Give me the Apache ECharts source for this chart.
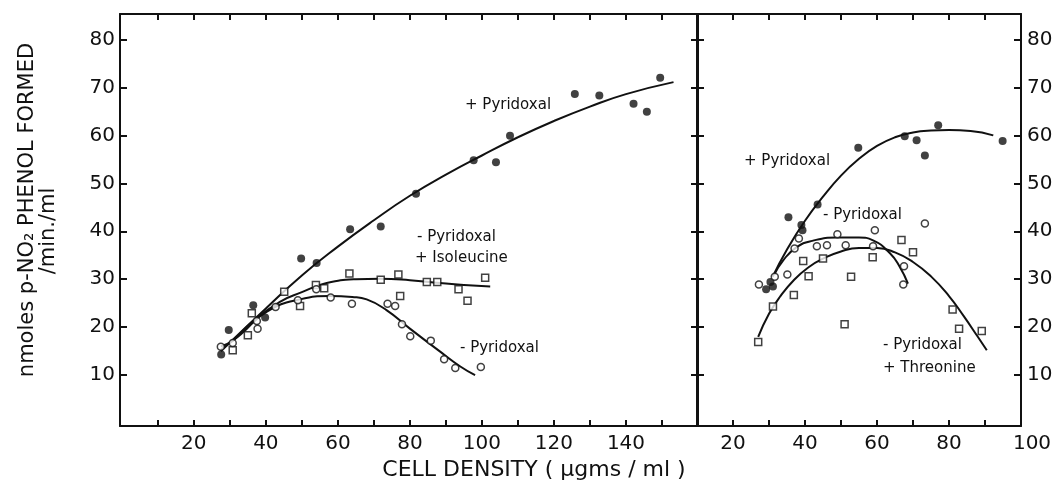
<!DOCTYPE html>
<html>
<head>
<meta charset="utf-8">
<script src="https://cdn.jsdelivr.net/npm/echarts@6/dist/echarts.min.js"></script>
<style>
  html, body { margin: 0; padding: 0; background: #fff; }
  #chart { width: 1059px; height: 483px; }
</style>
</head>
<body>
<div id="chart"></div>
<script>
// left panel: measured points (cell density, nmoles/min/ml)
const leftPlusPyridoxal = [[27.6,14.3],[29.7,19.4],[36.5,24.6],[39.8,22.0],[49.8,34.3],[54.1,33.4],[63.4,40.4],[71.9,41.0],[81.7,47.8],[97.7,54.8],[103.9,54.4],[107.8,59.9],[125.8,68.6],[132.6,68.3],[142.1,66.6],[145.8,64.9],[149.5,72.0]]
const leftIsoleucine = [[30.8,15.2],[35.0,18.3],[36.1,22.9],[45.1,27.4],[49.5,24.4],[53.9,28.8],[56.2,28.1],[63.2,31.2],[71.9,29.9],[76.8,31.0],[77.3,26.5],[84.7,29.4],[87.6,29.4],[93.5,27.9],[96.0,25.5],[100.9,30.3]]
const leftMinusPyridoxal = [[27.5,15.9],[30.8,16.7],[37.5,21.3],[37.7,19.7],[42.7,24.2],[48.9,25.6],[54.0,27.9],[58.0,26.2],[63.9,24.9],[73.8,24.9],[75.9,24.4],[77.8,20.6],[80.1,18.1],[85.8,17.2],[89.5,13.3],[92.6,11.5],[99.7,11.7]]

// left panel: hand-drawn curves
const leftPlusCurve = [[27.5,15],[40,23.9],[50,30.8],[60,36.8],[70,42.3],[80,47.4],[90,51.8],[100,55.8],[110,59.6],[120,63.0],[130,66.0],[140,68.6],[153.2,71.1]]
const leftIsoCurve = [[27.5,16],[31,17.3],[36,21],[43.9,25.3],[50,27.3],[56.9,29.2],[65,30],[71.7,30.1],[80,29.8],[88.4,29.2],[95,28.8],[102.3,28.5]]
const leftMinusCurve = [[27.5,15.3],[33,18.5],[40.2,23.2],[49.5,25.8],[57.8,26.5],[64,26.3],[68,25.8],[73.6,23.5],[80,19.7],[88.4,14.9],[94,11.8],[98.1,10]]

// right panel: measured points
const rightPlusPyridoxal = [[29.2,27.9],[30.4,29.4],[31.1,28.5],[35.4,42.9],[39.0,41.3],[39.3,40.2],[43.5,45.6],[54.8,57.4],[67.7,59.8],[71.0,59.0],[73.3,55.8],[77.0,62.1],[94.9,58.8]]
const rightMinusPyridoxal = [[27.2,28.9],[31.6,30.5],[35.1,31.0],[37.1,36.4],[38.3,38.5],[43.3,36.9],[46.1,37.1],[49.0,39.4],[51.3,37.1],[58.9,36.9],[59.4,40.2],[67.5,32.7],[67.3,28.9],[73.3,41.6]]
const rightThreonine = [[27.0,16.9],[31.1,24.3],[36.9,26.7],[39.5,33.8],[41.0,30.6],[45.0,34.3],[51.0,20.6],[52.8,30.5],[58.8,34.6],[66.8,38.2],[70.0,35.6],[81.0,23.7],[82.8,19.7],[89.1,19.2]]

// right panel: curves
const rightPlusCurve = [[31,30.5],[35,36.2],[40,42.2],[45,47.2],[50,51.6],[55,55.1],[60,57.8],[65,59.6],[70,60.6],[75,61.0],[80,61.1],[86,60.9],[92.3,60]]
const rightMinusCurve = [[31.5,31],[34,34],[37.7,36.7],[42,38],[48.8,38.7],[55,38.7],[58.9,38.1],[63.6,35.4],[66.3,32.6],[68.6,29.1]]
const rightThreCurve = [[27,18],[30,22.8],[33,26.3],[37,29.9],[41,32.5],[45,34.3],[50,35.8],[55,36.5],[60,36.5],[65,35.6],[70,33.6],[75,30.6],[80,26.5],[84,22.4],[88,18],[90.5,15.2]]

// ticks and labels
const yTicks = [10, 20, 30, 40, 50, 60, 70, 80]
const leftXTicks = [10, 20, 30, 40, 50, 60, 70, 80, 90, 100, 110, 120, 130, 140, 150]
const leftXLabels = [20, 40, 60, 80, 100, 120, 140]
const rightXTicks = [20, 30, 40, 50, 60, 70, 80, 90]
const rightXLabels = [20, 40, 60, 80, 100]

const FONT = 'DejaVu Sans'
const INK = '#111'

const chart = echarts.init(document.getElementById('chart'), null, {renderer: 'canvas'})

const axisLine = {show: true, onZero: false, lineStyle: {color: INK, width: 2}}
const noSplit = {show: false}

const xAx = (grid, pos, min, max, ticks, labels) => ({
  type: 'value', gridIndex: grid, position: pos, min, max,
  axisLine,
  axisTick: {show: true, inside: true, length: 6, customValues: ticks, lineStyle: {color: INK, width: 2}},
  axisLabel: labels ? {
    show: true, customValues: labels, margin: 8, color: INK, fontFamily: FONT, fontSize: 20,
    formatter: v => v === 100 && grid === 1 ? '{r|100}' : String(v),
    rich: {r: {fontFamily: FONT, fontSize: 20, color: INK, padding: [0, 0, 0, 22]}}
  } : {show: false},
  splitLine: noSplit
})

const yAx = (grid, pos, labels) => ({
  type: 'value', gridIndex: grid, position: pos, min: -0.6, max: 85.3,
  axisLine,
  axisTick: {show: true, inside: true, length: 7, customValues: yTicks, lineStyle: {color: INK, width: 2}},
  axisLabel: labels ? {show: true, customValues: yTicks, margin: pos === 'left' ? 5 : 6, color: INK, fontFamily: FONT, fontSize: 20} : {show: false},
  splitLine: noSplit
})

const curve = (data, xi, yi) => ({
  type: 'line', xAxisIndex: xi, yAxisIndex: yi, data, smooth: true,
  showSymbol: false, symbol: 'none', silent: true, z: 2,
  lineStyle: {color: INK, width: 2}
})

const dots = (data, xi, yi, kind) => ({
  type: 'scatter', xAxisIndex: xi, yAxisIndex: yi, data, z: 3,
  symbol: kind === 'square' ? 'rect' : 'circle',
  symbolSize: kind === 'filled' ? 8 : 7,
  itemStyle: kind === 'filled'
    ? {color: INK}
    : {color: '#fff', borderColor: INK, borderWidth: 1.5}
})

const note = (text, x, y) => ({
  type: 'text', x, y,
  style: {text, fill: INK, font: '15px "DejaVu Sans"', textVerticalAlign: 'middle'}
})

chart.setOption({
  backgroundColor: '#fff',
  animation: false,
  grid: [
    {left: 120, top: 14, width: 578, height: 412},
    {left: 697, top: 14, width: 324, height: 412}
  ],
  xAxis: [
    xAx(0, 'bottom', -0.5, 160, leftXTicks, leftXLabels),
    xAx(0, 'top', -0.5, 160, leftXTicks, null),
    xAx(1, 'bottom', 10, 100, rightXTicks, rightXLabels),
    xAx(1, 'top', 10, 100, rightXTicks, null)
  ],
  yAxis: [
    yAx(0, 'left', true),
    yAx(0, 'right', false),
    yAx(1, 'left', false),
    yAx(1, 'right', true)
  ],
  series: [
    curve(leftPlusCurve, 0, 0),
    curve(leftIsoCurve, 0, 0),
    curve(leftMinusCurve, 0, 0),
    dots(leftPlusPyridoxal, 0, 0, 'filled'),
    dots(leftIsoleucine, 0, 0, 'square'),
    dots(leftMinusPyridoxal, 0, 0, 'open'),
    curve(rightPlusCurve, 2, 3),
    curve(rightMinusCurve, 2, 3),
    curve(rightThreCurve, 2, 3),
    dots(rightPlusPyridoxal, 2, 3, 'filled'),
    dots(rightThreonine, 2, 3, 'square'),
    dots(rightMinusPyridoxal, 2, 3, 'open')
  ],
  graphic: [
    {
      type: 'text', x: 28, y: 210, rotation: Math.PI / 2,
      style: {text: 'nmoles p-NO₂ PHENOL FORMED', fill: INK, font: '21px "DejaVu Sans"', textAlign: 'center', textVerticalAlign: 'middle'}
    },
    {
      type: 'text', x: 49, y: 231, rotation: Math.PI / 2,
      style: {text: '/min./ml', fill: INK, font: '21px "DejaVu Sans"', textAlign: 'center', textVerticalAlign: 'middle'}
    },
    {
      type: 'text', x: 534, y: 470,
      style: {text: 'CELL DENSITY ( µgms / ml )', fill: INK, font: '22px "DejaVu Sans"', textAlign: 'center', textVerticalAlign: 'middle'}
    },
    note('+ Pyridoxal', 465, 105),
    note('- Pyridoxal', 417, 237),
    note('+ Isoleucine', 415, 258),
    note('- Pyridoxal', 460, 348),
    note('+ Pyridoxal', 744, 161),
    note('- Pyridoxal', 823, 215),
    note('- Pyridoxal', 883, 345),
    note('+ Threonine', 883, 368)
  ]
})
</script>
</body>
</html>
